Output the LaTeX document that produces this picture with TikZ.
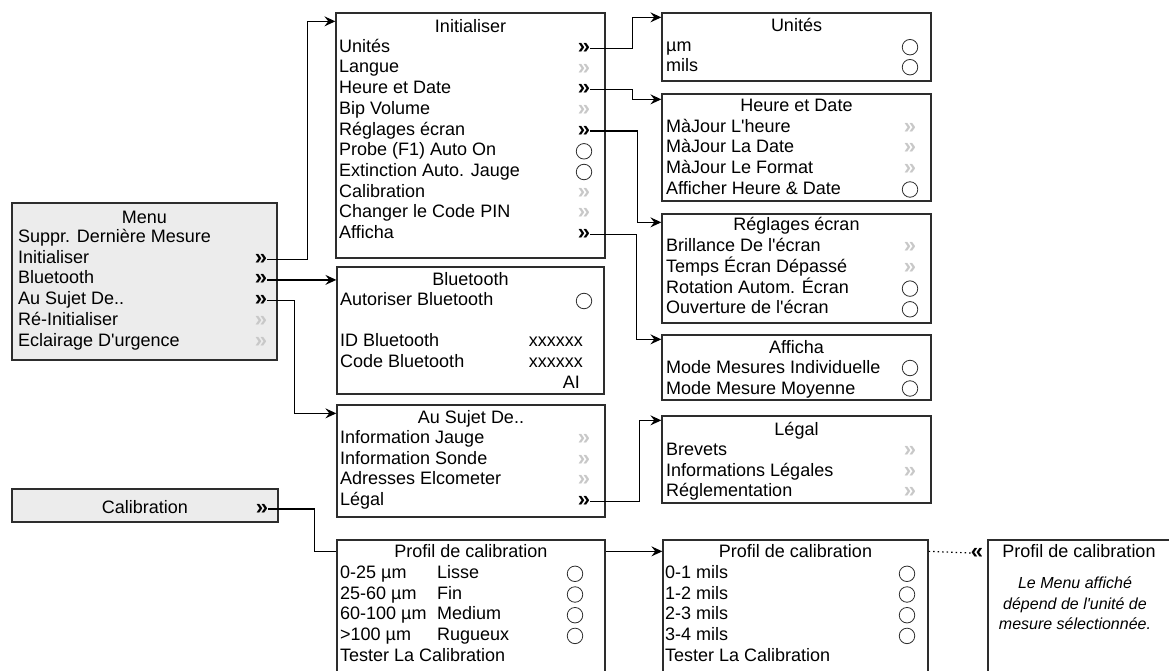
\documentclass[tikz,border=0pt]{standalone}
\usepackage{fontspec}
\setmainfont{Liberation Sans}[Ligatures=TeXOff]
\definecolor{FondMenu}{RGB}{236,236,236}
\definecolor{GrisChev}{RGB}{200,200,200}
\definecolor{Trait}{RGB}{45,45,45}
\usetikzlibrary{calc, arrows.meta}

\begin{document}
\begin{tikzpicture}[
  x=1pt, y=-1pt,
  font=\fontsize{18}{21}\selectfont,
  box/.style={draw=Trait, line width=1.3pt, inner sep=0pt},
  menu/.style={box, fill=FondMenu, line width=2.4pt},
  row/.style={anchor=base west, inner sep=0pt},
  ttl/.style={anchor=base, inner sep=0pt},
  val/.style={anchor=base east, inner sep=0pt},
  chev/.style={inner sep=0pt, font=\fontsize{22}{22}\selectfont\bfseries},
  chevg/.style={chev, text=GrisChev},
  radio/.style={circle, draw=Trait, line width=0.8pt, minimum size=15.5pt, inner sep=0pt, yshift=1.5pt},
  arr/.style={-{Stealth[length=11pt,width=10pt,inset=4pt]}, line width=1.2pt},
  lin/.style={line width=1.2pt},
  dotlin/.style={dash pattern=on 1.5pt off 3pt, line width=1.2pt},
  note/.style={anchor=base, inner sep=0pt, font=\fontsize{16}{19}\selectfont\itshape}
]
\useasboundingbox (0,0) rectangle (1169,671);
\clip (0,0) rectangle (1169,671);

%% ——— Menu principal ———
\node[menu, minimum width=265pt, minimum height=157pt] (menu) at (144.5,281.5) {};
\node[ttl] (m-t) at (144.5,223) {Menu};
\node[row] (m-1) at (18,242.5) {Suppr. Dernière Mesure};
\node[row] (m-2) at (18,263.2) {Initialiser};
\node[row] (m-3) at (18,283.9) {Bluetooth};
\node[row] (m-4) at (18,304.6) {Au Sujet De..};
\node[row] (m-5) at (18,325.3) {Ré-Initialiser};
\node[row] (m-6) at (18,346) {Eclairage D'urgence};
\node[chev]  (m-ini) at (261,259.2) {»};
\node[chev]  (m-bt)  at (261,279.9) {»};
\node[chev]  (m-au)  at (261,300.6) {»};
\node[chevg] (m-ri)  at (261,321.3) {»};
\node[chevg] (m-ec)  at (261,342) {»};

%% ——— Initialiser ———
\node[box, minimum width=269pt, minimum height=245pt] (ini) at (470.5,135.5) {};
\node[ttl] (i-t) at (470.5,32.3) {Initialiser};
\node[row] (i-1)  at (339,52.3)  {Unités};
\node[row] (i-2)  at (339,73)    {Langue};
\node[row] (i-3)  at (339,93.7)  {Heure et Date};
\node[row] (i-4)  at (339,114.4) {Bip Volume};
\node[row] (i-5)  at (339,135.1) {Réglages écran};
\node[row] (i-6)  at (339,155.8) {Probe (F1) Auto On};
\node[row] (i-7)  at (339,176.5) {Extinction Auto. Jauge};
\node[row] (i-8)  at (339,197.2) {Calibration};
\node[row] (i-9)  at (339,217.9) {Changer le Code PIN};
\node[row] (i-10) at (339,238.6) {Afficha};
\node[chev]  (i-un) at (584,48.3)  {»};
\node[chevg] (i-la) at (584,69)    {»};
\node[chev]  (i-hd) at (584,89.7)  {»};
\node[chevg] (i-bv) at (584,110.4) {»};
\node[chev]  (i-re) at (584,131.1) {»};
\node[radio] (i-pr) at (584,152.8) {};
\node[radio] (i-ex) at (584,173.5) {};
\node[chevg] (i-ca) at (584,193.2) {»};
\node[chevg] (i-pin) at (584,213.9) {»};
\node[chev]  (i-af) at (584,234.6) {»};

%% ——— Unités ———
\node[box, minimum width=269pt, minimum height=68pt] (un) at (796.5,47) {};
\node[ttl] (u-t) at (796.5,31.7) {Unités};
\node[row] (u-1) at (666,51.7) {µm};
\node[row] (u-2) at (666,71.7) {mils};
\node[radio] (u-r1) at (910,48.7) {};
\node[radio] (u-r2) at (910,68.7) {};

%% ——— Heure et Date ———
\node[box, minimum width=269pt, minimum height=107pt] (hd) at (796.5,147.5) {};
\node[ttl] (h-t) at (796.5,112) {Heure et Date};
\node[row] (h-1) at (666,132.3) {MàJour L'heure};
\node[row] (h-2) at (666,152.8) {MàJour La Date};
\node[row] (h-3) at (666,173.3) {MàJour Le Format};
\node[row] (h-4) at (666,194)   {Afficher Heure \& Date};
\node[chevg] (h-c1) at (910,128.3) {»};
\node[chevg] (h-c2) at (910,148.8) {»};
\node[chevg] (h-c3) at (910,169.3) {»};
\node[radio] (h-r4) at (910,191)   {};

%% ——— Réglages écran ———
\node[box, minimum width=269pt, minimum height=109pt] (re) at (796.5,268.5) {};
\node[ttl] (r-t) at (796.5,230.7) {Réglages écran};
\node[row] (r-1) at (666,251.7) {Brillance De l'écran};
\node[row] (r-2) at (666,272.4) {Temps Écran Dépassé};
\node[row] (r-3) at (666,293.1) {Rotation Autom. Écran};
\node[row] (r-4) at (666,313.8) {Ouverture de l'écran};
\node[chevg] (r-c1) at (910,247.7) {»};
\node[chevg] (r-c2) at (910,268.4) {»};
\node[radio] (r-r3) at (910,290.1) {};
\node[radio] (r-r4) at (910,310.8) {};

%% ——— Afficha ———
\node[box, minimum width=269pt, minimum height=65pt] (af) at (796.5,367.5) {};
\node[ttl] (f-t) at (796.5,353) {Afficha};
\node[row] (f-1) at (666,373.5) {Mode Mesures Individuelle};
\node[row] (f-2) at (666,394)   {Mode Mesure Moyenne};
\node[radio] (f-r1) at (910,369.5) {};
\node[radio] (f-r2) at (910,390)   {};

%% ——— Bluetooth ———
\node[box, minimum width=267pt, minimum height=127pt] (bt) at (470.5,330.5) {};
\node[ttl] (b-t) at (470.5,285) {Bluetooth};
\node[row] (b-1) at (340,305.5) {Autoriser Bluetooth};
\node[row] (b-2) at (340,346.8) {ID Bluetooth};
\node[row] (b-3) at (340,367.5) {Code Bluetooth};
\node[val] (b-v2) at (583,346.8) {xxxxxx};
\node[val] (b-v3) at (583,367.5) {xxxxxx};
\node[val] (b-v4) at (580,388)   {AI};
\node[radio] (b-r1) at (584,302.5) {};

%% ——— Au Sujet De.. ———
\node[box, minimum width=268pt, minimum height=112pt] (au) at (471,461) {};
\node[ttl] (a-t) at (471,423.5) {Au Sujet De..};
\node[row] (a-1) at (340,443.3) {Information Jauge};
\node[row] (a-2) at (340,464)   {Information Sonde};
\node[row] (a-3) at (340,484.7) {Adresses Elcometer};
\node[row] (a-4) at (340,505.4) {Légal};
\node[chevg] (a-c1) at (584,439.3) {»};
\node[chevg] (a-c2) at (584,460)   {»};
\node[chevg] (a-c3) at (584,480.7) {»};
\node[chev]  (a-le) at (584,501.4) {»};

%% ——— Légal ———
\node[box, minimum width=269pt, minimum height=87pt] (le) at (796.5,459.5) {};
\node[ttl] (l-t) at (796.5,435) {Légal};
\node[row] (l-1) at (666,455.5) {Brevets};
\node[row] (l-2) at (666,476.2) {Informations Légales};
\node[row] (l-3) at (666,496.9) {Réglementation};
\node[chevg] (l-c1) at (910,451.5) {»};
\node[chevg] (l-c2) at (910,472.2) {»};
\node[chevg] (l-c3) at (910,492.9) {»};

%% ——— Calibration ———
\node[menu, minimum width=266pt, minimum height=33pt] (cal) at (145,505.5) {};
\node[ttl] (c-t) at (145,513) {Calibration};
\node[chev] (c-cal) at (262,509) {»};

%% ——— Profil de calibration (µm) ———
\node[box, minimum width=268pt, minimum height=160pt] (p1) at (471,620) {};
\node[ttl] (p1-t) at (471,557) {Profil de calibration};
\node[row] (p1-1a) at (340,578.3) {0-25 µm};
\node[row] (p1-1b) at (437,578.3) {Lisse};
\node[row] (p1-2a) at (340,599)   {25-60 µm};
\node[row] (p1-2b) at (437,599)   {Fin};
\node[row] (p1-3a) at (340,619.7) {60-100 µm};
\node[row] (p1-3b) at (437,619.7) {Medium};
\node[row] (p1-4a) at (340,640.4) {>100 µm};
\node[row] (p1-4b) at (437,640.4) {Rugueux};
\node[row] (p1-5)  at (340,661.1) {Tester La Calibration};
\node[radio] (p1-r1) at (575,575.3) {};
\node[radio] (p1-r2) at (575,596)   {};
\node[radio] (p1-r3) at (575,616.7) {};
\node[radio] (p1-r4) at (575,637.4) {};

%% ——— Profil de calibration (mils) ———
\node[box, minimum width=265pt, minimum height=160pt] (p2) at (795.5,620) {};
\node[ttl] (p2-t) at (795.5,557) {Profil de calibration};
\node[row] (p2-1) at (665,578.3) {0-1 mils};
\node[row] (p2-2) at (665,599)   {1-2 mils};
\node[row] (p2-3) at (665,619.7) {2-3 mils};
\node[row] (p2-4) at (665,640.4) {3-4 mils};
\node[row] (p2-5) at (665,661.1) {Tester La Calibration};
\node[radio] (p2-r1) at (907,575.3) {};
\node[radio] (p2-r2) at (907,596)   {};
\node[radio] (p2-r3) at (907,616.7) {};
\node[radio] (p2-r4) at (907,637.4) {};

%% ——— Note à droite ———
\node[box, minimum width=262pt, minimum height=160pt] (p3) at (1119,620) {};
\node[ttl] (p3-t) at (1079,557) {Profil de calibration};
\node[note] (n-1) at (1075,588)   {Le Menu affiché};
\node[note] (n-2) at (1075,609)   {dépend de l'unité de};
\node[note] (n-3) at (1075,629.5) {mesure sélectionnée.};
\node[chev] (back) at (977,553) {«};

%% ——— Flèches ———
\draw[arr] (m-ini.east) -- ++(40,0) |- ($(ini.north west)+(0,9)$);
\draw[arr] (m-bt.east) -- (m-bt.east -| bt.west);
\draw[arr] (m-au.east) -- ++(27,0) |- ($(au.north west)+(0,9)$);
\draw[arr] (i-un.east) -- ++(42,0) |- ($(un.north west)+(0,5)$);
\draw[arr] (i-hd.east) -- ++(42,0) |- ($(hd.north west)+(0,6)$);
\draw[arr] (i-re.east) -- ++(47,0) |- ($(re.north west)+(0,9)$);
\draw[arr] (i-af.east) -- ++(46,0) |- ($(af.north west)+(0,5)$);
\draw[arr] (a-le.east) -- ++(49,0) |- ($(le.north west)+(0,5)$);
\draw[lin] (c-cal.east) -- ++(46,0) |- ($(p1.north west)+(0,12)$);
\draw[arr] ($(p1.north east)+(0,12)$) -- ($(p2.north west)+(0,12)$);
\draw[dotlin] ($(p2.north east)+(0,12)$) -- (back.west);

\end{tikzpicture}
\end{document}
